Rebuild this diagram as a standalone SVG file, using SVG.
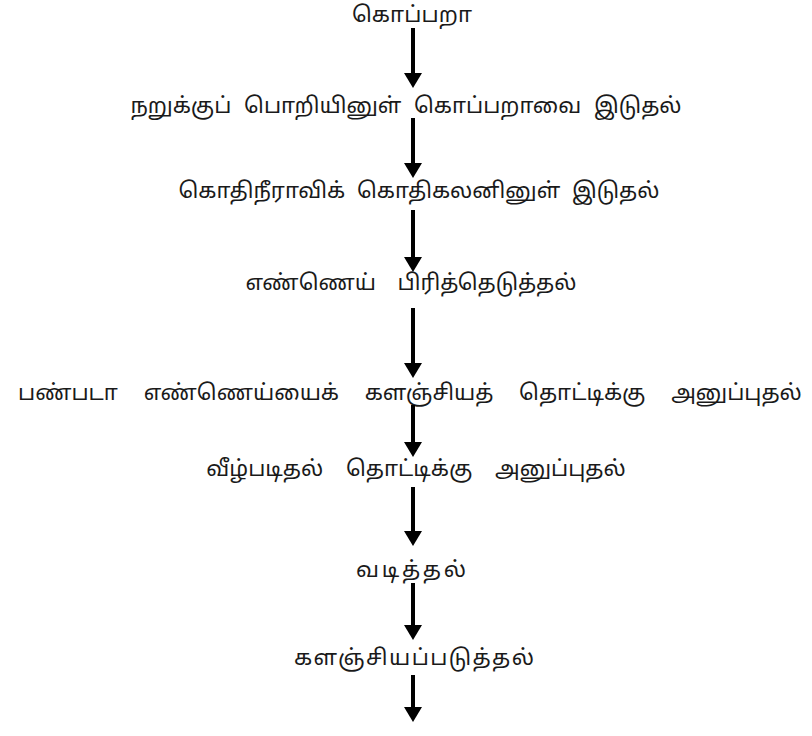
<svg xmlns="http://www.w3.org/2000/svg" width="812" height="736" viewBox="0 0 812 736">
<defs>
<style>
.t{font-family:"Noto Sans Tamil","Lohit Tamil","Noto Sans",sans-serif;font-size:22px;fill:#1a1a1a;text-anchor:middle}
.c line{stroke:#000;stroke-width:4}
</style>
<marker id="ah" markerUnits="userSpaceOnUse" viewBox="0 -9 15 18" refX="5" refY="0" markerWidth="15" markerHeight="18" orient="auto">
<path d="M0,-9 L15,0 L0,9 z" fill="#000"/>
</marker>
</defs>
<rect width="812" height="736" fill="#fff"/>
<g id="n1"><text class="t" x="412" y="22" textLength="120">கொப்பறா</text></g>
<g id="n2"><text class="t" x="406" y="113" word-spacing="7">நறுக்குப் பொறியினுள் கொப்பறாவை இடுதல்</text></g>
<g id="n3"><text class="t" x="419" y="198" word-spacing="6">கொதிநீராவிக் கொதிகலனினுள் இடுதல்</text></g>
<g id="n4"><text class="t" x="411" y="290" word-spacing="16">எண்ணெய் பிரித்தெடுத்தல்</text></g>
<g id="n5"><text class="t" x="410" y="400" word-spacing="20">பண்படா எண்ணெய்யைக் களஞ்சியத் தொட்டிக்கு அனுப்புதல்</text></g>
<g id="n6"><text class="t" x="416" y="476" word-spacing="17">வீழ்படிதல் தொட்டிக்கு அனுப்புதல்</text></g>
<g id="n7"><text class="t" x="411" y="577" textLength="110">வடித்தல்</text></g>
<g id="n8"><text class="t" x="414" y="665" textLength="240">களஞ்சியப்படுத்தல்</text></g>
<g class="c" id="connectors">
<line x1="413" y1="28" x2="413" y2="78" marker-end="url(#ah)"/>
<line x1="413" y1="118" x2="413" y2="168" marker-end="url(#ah)"/>
<line x1="413" y1="210" x2="413" y2="262" marker-end="url(#ah)"/>
<line x1="413" y1="308" x2="413" y2="368" marker-end="url(#ah)"/>
<line x1="413" y1="405" x2="413" y2="447" marker-end="url(#ah)"/>
<line x1="413" y1="487" x2="413" y2="536" marker-end="url(#ah)"/>
<line x1="413" y1="583" x2="413" y2="630" marker-end="url(#ah)"/>
<line x1="413" y1="675" x2="413" y2="712" marker-end="url(#ah)"/>
</g>
</svg>
